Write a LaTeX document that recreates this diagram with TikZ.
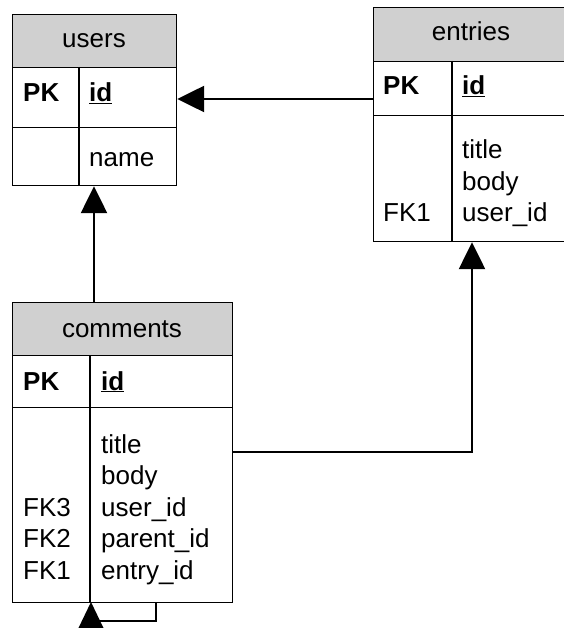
\documentclass[tikz,border=0pt]{standalone}
\usepackage{fontspec}
\setmainfont{Liberation Sans}
\usetikzlibrary{arrows.meta}
\definecolor{hdrgray}{RGB}{208,208,208}
\newcommand{\tblfont}{\fontsize{26}{31.5}\selectfont}
\begin{document}
\begin{tikzpicture}[x=1pt,y=-1pt,
  box/.style={draw, line width=1.2pt, rectangle, inner sep=0pt, anchor=north west},
  hdr/.style={box, fill=hdrgray},
  txt/.style={anchor=base west, inner sep=0pt, font=\tblfont},
  ctxt/.style={anchor=base, inner sep=0pt, font=\tblfont},
  divline/.style={line width=1.2pt},
  conn/.style={line width=2.4pt},
  tipped/.style={-{Triangle[length=27pt,width=26pt]}}]
\useasboundingbox (0,0) rectangle (563,628);
% ---------- users ----------
\node[hdr, minimum width=164pt, minimum height=53pt] (usersH) at (12,14) {};
\node[box, minimum width=164pt, minimum height=60pt] (usersPK) at (12,67) {};
\node[box, minimum width=164pt, minimum height=58pt] (usersA) at (12,127) {};
\draw[divline] (79,67) -- (79,185);
\node[ctxt] (usersT) at (94,48) {users};
\node[txt] (usersPKl) at (23,102) {\textbf{PK}};
\node[txt] (usersid) at (89,102) {\underline{\textbf{id}}};
\node[txt] (usersname) at (89,167) {name};
% ---------- entries ----------
\node[hdr, minimum width=196pt, minimum height=54pt] (entriesH) at (373,7) {};
\node[box, minimum width=196pt, minimum height=54pt] (entriesPK) at (373,61) {};
\node[box, minimum width=196pt, minimum height=126pt] (entriesA) at (373,115) {};
\draw[divline] (452,61) -- (452,241);
\node[ctxt] (entriesT) at (471,41) {entries};
\node[txt] (entriesPKl) at (383,95) {\textbf{PK}};
\node[txt] (entriesid) at (462,95) {\underline{\textbf{id}}};
\node[txt] (entriestitle) at (462,159) {title};
\node[txt] (entriesbody) at (462,190.5) {body};
\node[txt] (entriesuid) at (462,222) {user\_id};
\node[txt] (entriesfk) at (383,222) {FK1};
% ---------- comments ----------
\node[hdr, minimum width=220pt, minimum height=53pt] (commentsH) at (12,302) {};
\node[box, minimum width=220pt, minimum height=52pt] (commentsPK) at (12,355) {};
\node[box, minimum width=220pt, minimum height=195pt] (commentsA) at (12,407) {};
\draw[divline] (90,355) -- (90,602);
\node[ctxt] (commentsT) at (122,337) {comments};
\node[txt] (commentsPKl) at (23,390) {\textbf{PK}};
\node[txt] (commentsid) at (101,390) {\underline{\textbf{id}}};
\node[txt] (ctitle) at (101,453) {title};
\node[txt] (cbody) at (101,484.5) {body};
\node[txt] (cuid) at (101,516) {user\_id};
\node[txt] (cpid) at (101,547.5) {parent\_id};
\node[txt] (ceid) at (101,579) {entry\_id};
\node[txt] (cfk3) at (23,516) {FK3};
\node[txt] (cfk2) at (23,547.5) {FK2};
\node[txt] (cfk1) at (23,579) {FK1};
% ---------- connectors ----------
\coordinate (e2u) at (373,99);
\draw[conn, tipped] (e2u) -- (usersPK.east |- e2u);
\coordinate (cu) at (94,302);
\draw[conn, tipped] (cu) -- (cu |- usersA.south);
\coordinate (ce) at (232,452);
\coordinate (cecorner) at (472,452);
\draw[conn, tipped] (ce) -- (cecorner) -- (cecorner |- entriesA.south);
\coordinate (selfa) at (156,602);
\coordinate (selfb) at (156,621);
\coordinate (selfc) at (91,621);
\coordinate (selftip) at (91,602);
\draw[conn] (selfa) -- (selfb) -- (selfc);
\fill (selftip) -- ++(13,27) -- ++(-26,0) -- cycle;
\end{tikzpicture}
\end{document}
